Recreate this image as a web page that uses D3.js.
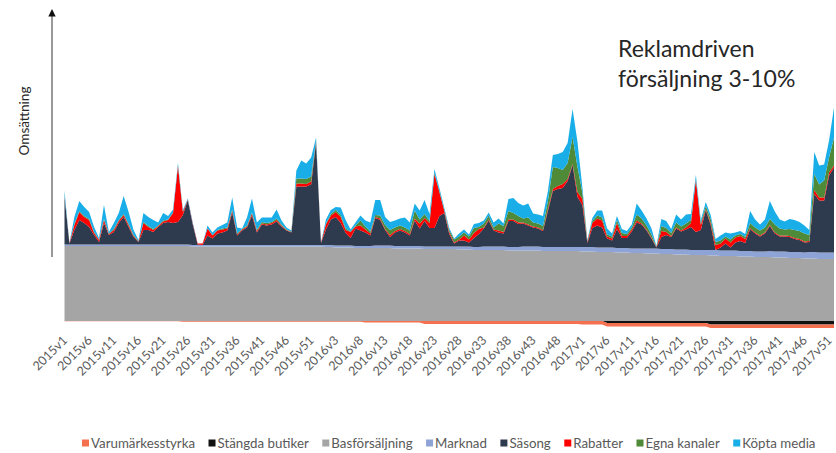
<!DOCTYPE html>
<html>
<head>
<meta charset="utf-8">
<script src="https://cdn.jsdelivr.net/npm/d3@7"></script>
<style>
  body { margin: 0; background: #fff; }
  svg { display: block; }
  text { font-family: Lato, "Open Sans", sans-serif; }
</style>
</head>
<body>
<svg id="chart" width="836" height="453"></svg>
<script>
// ---- Categories: ISO weeks 2015v1 .. 2017v52 ----
const years = [2015, 2016, 2017];
const weeksInYear = [53, 52, 52];
const weeks = years.flatMap((yr, k) => d3.range(1, weeksInYear[k] + 1).map(w => `${yr}v${w}`));

const tickLabels = [
  "2015v1","2015v6","2015v11","2015v16","2015v21","2015v26","2015v31","2015v36","2015v41","2015v46","2015v51",
  "2016v3","2016v8","2016v13","2016v18","2016v23","2016v28","2016v33","2016v38","2016v43","2016v48",
  "2017v1","2017v6","2017v11","2017v16","2017v21","2017v26","2017v31","2017v36","2017v41","2017v46","2017v51"
];

// ---- Weekly revenue components (same unit throughout) ----
const varumarkesstyrka = [
  // 2015
  -0.3,-0.3,-0.3,-0.3,-0.3,-0.3,-0.3,-0.3,-0.3,-0.3,
  -0.3,-0.3,-0.3,-0.3,-0.3,-0.3,-0.3,-0.3,-0.3,-0.3,
  -0.3,-0.3,-0.3,-0.3,-0.8,-0.8,-0.8,-0.8,-0.8,-0.8,
  -0.8,-0.8,-0.8,-0.8,-0.8,-0.8,-0.8,-0.8,-0.8,-0.8,
  -0.8,-0.8,-0.8,-0.8,-0.8,-0.8,-0.8,-0.8,-0.8,-0.8,
  -0.8,-0.8,-0.8,
  // 2016
  -0.8,-0.8,-0.8,-0.8,-0.8,-0.8,-0.8,-0.8,-1.5,-1.5,
  -1.5,-1.5,-1.5,-1.5,-1.5,-1.5,-1.5,-1.5,-1.5,-1.5,
  -3,-3,-3,-3,-3,-3,-3,-3,-3,-3,
  -3,-3,-3,-3,-3,-3,-3,-3,-3,-3,
  -3,-3,-3,-3,-3,-3,-3,-3,-3,-3,
  -3,-3,
  // 2017
  -3.5,-3.5,-3.5,-3.5,-3.5,-3.5,-3.5,-3.5,-3.5,-3.5,
  -3.5,-3.5,-3.5,-3.5,-3.5,-3.5,-3.5,-3.5,-3.5,-3.5,
  -3.5,-3.5,-3.5,-3.5,-3.5,-3.5,-3.5,-3.5,-3.5,-3.5,
  -3.5,-3.5,-3.5,-3.5,-3.5,-3.5,-3.5,-3.5,-3.5,-3.5,
  -3.5,-3.5,-3.5,-3.5,-3.5,-3.5,-3.5,-3.5,-3.5,-3.5,
  -3.5,-3.5
];

const stangdaButiker = [
  // 2015
  0,0,0,0,0,0,0,0,0,0, 0,0,0,0,0,0,0,0,0,0,
  0,0,0,0,0,0,0,0,0,0, 0,0,0,0,0,0,0,0,0,0,
  0,0,0,0,0,0,0,0,0,0, 0,0,0,
  // 2016
  0,0,0,0,0,0,0,0,0,0, 0,0,0,0,0,0,0,0,0,0,
  0,0,0,0,0,0,0,0,0,0, 0,0,0,0,0,0,0,0,0,0,
  0,0,0,0,0,0,0,0,0,0, 0,0,
  // 2017
  0,0,0,0,0,-2,-2,-2,-2,-2,
  -2,-2,-2,-2,-2,-2,-2,-2,-2,-2,
  -2,-2,-2,-2,-2,-2,-3.5,-3.5,-3.5,-3.5,
  -3.5,-3.5,-3.5,-3.5,-3.5,-3.5,-3.5,-3.5,-3.5,-3.5,
  -3.5,-3.5,-3.5,-3.5,-3.5,-3.5,-3.5,-3.5,-3.5,-3.5,
  -3.5,-3.5
];

const basforsaljning = [
  // 2015
  75,75,75,75,75,75,75,75,75,75,
  75,75,75,75,75,75,75,75,75,75,
  75,75,75,75,75,75,74.5,74.5,74.5,74.5,
  74.5,74.5,74.5,74.5,74.5,74.5,74.5,74.5,74.5,74.5,
  74.5,74.5,74.5,74.5,74.5,74.5,74.5,74.5,74.5,74.5,
  74.5,74.5,74.5,
  // 2016
  74,74,73.5,73.5,73.5,73.5,73,73,73,73,
  73,73,73,73,72.5,72.5,72.5,72.5,72.5,72.5,
  72,72,72,72,72,72,72,71.5,71.5,71.5,
  71,71,71,71,71,71,71,70.5,70.5,70.5,
  70.5,70.5,70.5,70.5,70,70,70,70,70,70,
  70,70,
  // 2017
  69.5,69.5,69.5,69,69,69,69,68.5,68.5,68.5,
  68,68,68,67.5,67.5,67.5,67,67,67,66.5,
  66.5,66.5,66,66,66,66,65.5,65.5,65,65,
  65,65,64.5,64.5,64.5,64,64,64,64,63.5,
  63.5,63.5,63,63,63,62.5,62.5,62.5,62,62,
  62,62
];

const marknad = [
  // 2015
  1.5,1.5,1.5,1.5,1.5,1.5,1.5,1.5,1.5,1.5,
  1.5,1.5,1.5,1.5,1.5,1.5,1.5,1.5,1.5,1.5,
  1.5,1.5,1.5,1.5,1.5,1.5,1.5,1.5,1.5,1.5,
  1.5,1.5,1.5,1.5,1.5,1.5,1.5,1.5,1.5,1.5,
  1.5,1.5,1.5,1.5,1.5,1.5,1.5,1.5,1.5,1.5,
  1.5,1.5,1.5,
  // 2016
  2,2,2,2,2,2,2,2,2,2,
  2.5,2.5,2.5,2.5,2.5,2.5,2.5,2.5,2.5,2.5,
  2.5,2.5,2.5,2.5,2.5,2.5,2.5,3,3,3,
  3,3,3.5,3.5,3.5,3.5,3.5,3.5,3.5,3.5,
  4,4,4,4,4,4,4,4,4,4,
  4,4,
  // 2017
  4.5,4.5,4.5,4.5,4.5,4.5,4.5,4.5,4.5,4.5,
  4.5,4.5,4.5,5,5,5,5,5,5,5,
  5,5,5,5,5,5,5.5,5.5,5.5,5.5,
  5.5,5.5,5.5,5.5,5.5,5.5,5.5,5.5,6,6,
  6,6,6,6,6,6,6.5,6.5,6.5,6.5,
  6.5,6.5
];

const sasong = [
  // 2015
  48,1,14.5,24.5,21.5,17.5,9.5,2.5,21.5,9.5,
  12.5,21.5,27.5,17.5,7.5,2.5,14.5,14.5,12.5,17.5,
  21.5,22.5,21.5,22.5,29.5,44.5,20.5,0.5,0,9.5,
  6.5,11.5,12.5,14.5,32.5,9.5,14.5,17.5,29.5,12.5,
  20.5,19.5,20.5,23.5,18.5,14.5,12.5,58.5,58.5,58.5,
  60.5,102.5,2,
  // 2016
  15.5,25.5,28.5,22.5,12.5,7.5,17.5,15.5,13.5,10.5,
  27.5,25.5,15.5,8.5,13.5,15.5,13.5,10.5,25.5,17.5,
  25.5,18.5,18.5,30.5,33.5,12.5,3,6,6,4,
  9,13,18,26,16,14,13,26,26,23,
  23,21,19,18,16,36,56,58,59,66,
  82,50,
  // 2017
  42,4,19,22,20,9,7,19,10,10,
  17,26,24,18,10,1,12,14,12,21,
  18,20,23,18,20,40,25,0,3,7,
  3,8,10,8,22,18,15,18,25,18,
  15,15,15,13,12,10,10,58,52,52,
  77,85
];

const rabatter = [
  // 2015
  0.5,0.5,5,8,6,7,2,2,3,1,
  2,2,2,2,1,0.5,7,3,2,1,
  1.5,2,10,56,3,0.5,1,1,1.5,7,
  3,3,3,2,2,1,1,1,2,1.5,
  1,1,1.5,1.5,1,0.5,0.5,3,3,2.5,
  3,1,0.5,
  // 2016
  5,4,5,6,3,6,2,5,3,2,
  1,1.5,1,2,1.5,1.5,1.5,1.5,2,5,
  3,5,54,24,2,2,1,1,5,3,
  5,5,1,1,1,2,1.5,1.5,1.5,1.5,
  1,1,1,1,1,2,2,3,4,2,
  1,5,
  // 2017
  6,1,5,7,7,2,2,6,2,2,
  2,2,1,1,1,0.5,6,3,1,1,
  1,2,4,52,5,1,2,5,4,5,
  5,5,5,4,1,1,1,1,1,1,
  1,1,1,1,1,1,1,4,3,3,
  3,2
];

const egnaKanaler = [
  // 2015
  0.5,0,1,1,1,1,1,0.5,1,0.5,
  1,1,1,1,1,0.5,1,1,1,0.5,
  1,0.5,0.5,0.5,0.5,0,0,0,0,0.5,
  0.5,0.5,1,1,1,1,0.5,1,1,1,
  1.5,1.5,1,1.5,1,0.5,0.5,5,5,5,
  5,1,0,
  // 2016
  1,1.5,2,2,1.5,0.5,1,5,3,2,
  2,3,4,5,3.5,3.5,3.5,3.5,8,4,
  4,2,1,1,1,2,3,3,3,3,
  5,2,4,4,2,7,6,8.5,6.5,6.5,
  4,7,4,4,4,8,22,18,14,16,
  27,25,
  // 2017
  6,1,2,3,3,2,2,3,3,2,
  2,6,5,4,3,0.5,5,4,3,5,
  4,4,3,1,2,3,4,3,3,2,
  3,2,2,2,5,5,5,5,6,8,
  7,6,7,8,8,8,6,16,13,17,
  15,28
];

const koptaMedia = [
  // 2015
  5,0,7,10,9,7,5,1.5,14,1.5,
  6,7,18,12,5,1,9,9,9,3,
  7.5,3.5,3,2.5,1.5,1,1,0,0,2.5,
  2.5,2.5,3.5,5,12,6,0.5,8,14,7.5,
  4.5,5.5,4.5,9,4,2,1,8,18,15.5,
  19,3,0,
  // 2016
  4,4,3,7.5,8.5,2,3,5,6,9,
  15,15.5,8,8,7,7,10,8,7,9,
  14,7,4,3,2,2,1,3,3,2,
  4,4,3,3,5,5,2.5,12,15,13,
  13,14,9,9,10,10,12,14,18,20,
  28,25,
  // 2017
  5,1,3,5,7,6,3,4,4,3,
  3,11,8,7,6,0.5,7,7,4,8,
  7,9,6,4,3,4,4,3,5,4,
  6,3,3,3,12,8,6,8,18,13,
  9,8,10,10,9,8,5,22,19,16,
  17,30
];

// ---- Series names and colours (legend order) ----
const seriesNames = ["Varumärkesstyrka","Stängda butiker","Basförsäljning","Marknad","Säsong","Rabatter","Egna kanaler","Köpta media"];
const seriesColors = ["#F4704F","#111111","#A5A5A5","#8EA3D6","#2E3A4E","#FF0000","#4E8A38","#1AAEE8"];
const seriesValues = [varumarkesstyrka, stangdaButiker, basforsaljning, marknad, sasong, rabatter, egnaKanaler, koptaMedia];
const colorOf = new Map(seriesNames.map((n, i) => [n, seriesColors[i]]));

// Closed stores sit directly under the base line, brand strength below them.
const stackOrder = ["Stängda butiker","Varumärkesstyrka","Basförsäljning","Marknad","Säsong","Rabatter","Egna kanaler","Köpta media"];

const table = weeks.map((w, i) => {
  const row = { week: w };
  seriesNames.forEach((n, k) => { row[n] = seriesValues[k][i]; });
  return row;
});

// Negatives grow downward from zero, everything else (zeros included)
// continues upward, so empty weeks never collapse a layer to the axis.
function offsetSplit(series, order) {
  const m = series[0].length;
  for (let j = 0; j < m; ++j) {
    let yp = 0, yn = 0;
    for (let i = 0; i < order.length; ++i) {
      const d = series[order[i]][j];
      const dy = d[1] - d[0];
      if (dy < 0) { d[1] = yn; d[0] = yn += dy; }
      else { d[0] = yp; d[1] = yp += dy; }
    }
  }
}

const svg = d3.select("#chart");

const x = d3.scalePoint().domain(weeks).range([64.5, 834]);
const y = d3.scaleLinear().domain([-10, 230]).range([331, 91]);

const layers = d3.stack()
  .keys(stackOrder)
  .offset(offsetSplit)(table);

const area = d3.area()
  .x(d => x(d.data.week))
  .y0(d => y(d[0]))
  .y1(d => y(d[1]));

svg.append("g")
  .selectAll("path")
  .data(layers)
  .join("path")
  .attr("fill", d => colorOf.get(d.key))
  .attr("d", area);

// ---- x axis: rotated week labels ----
const gx = svg.append("g")
  .attr("transform", "translate(0,338)")
  .call(d3.axisBottom(x).tickValues(tickLabels).tickSize(0).tickPadding(0));
gx.select(".domain").remove();
gx.selectAll("text")
  .attr("x", 0).attr("y", 0).attr("dy", "0.35em")
  .attr("transform", "rotate(-45)")
  .attr("text-anchor", "end")
  .attr("fill", "#595959")
  .style("font-family", "Lato, 'Open Sans', sans-serif")
  .style("font-size", "12.5px");

// ---- y axis arrow ----
svg.append("line")
  .attr("x1", 52).attr("x2", 52).attr("y1", 15).attr("y2", 257)
  .attr("stroke", "#555").attr("stroke-width", 1.2);
svg.append("path")
  .attr("d", "M52,9 L48.3,16.5 L55.7,16.5 Z")
  .attr("fill", "#111");

svg.append("text")
  .attr("transform", "translate(24,121) rotate(-90)")
  .attr("text-anchor", "middle")
  .attr("dy", "0.35em")
  .attr("fill", "#262626")
  .style("font-size", "13.5px")
  .text("Omsättning");

// ---- annotation ----
const note = svg.append("text")
  .attr("x", 618).attr("fill", "#262626")
  .style("font-size", "23px");
note.append("tspan").attr("x", 618).attr("y", 57).text("Reklamdriven");
note.append("tspan").attr("x", 618).attr("y", 87).text("försäljning 3-10%");

// ---- legend ----
const legend = svg.append("g").attr("transform", "translate(82,443)");
let lx = 0;
seriesNames.forEach((n, i) => {
  const g = legend.append("g").attr("transform", `translate(${lx},0)`);
  g.append("rect").attr("x", 0).attr("y", -3.5).attr("width", 7).attr("height", 7)
    .attr("fill", seriesColors[i]);
  const t = g.append("text").attr("x", 9).attr("dy", "0.35em")
    .attr("fill", "#595959").style("font-size", "13.3px").text(n);
  lx += 9 + t.node().getComputedTextLength() + 13.5;
});
</script>
</body>
</html>
